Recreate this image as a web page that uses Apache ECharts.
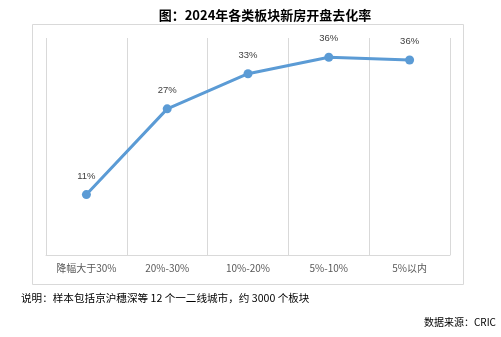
<!DOCTYPE html>
<html><head><meta charset="utf-8">
<script src="https://cdn.jsdelivr.net/npm/echarts@6/dist/echarts.min.js"></script>
<style>html,body{margin:0;padding:0;background:#fff}#c{width:501px;height:337px}</style>
</head><body><div id="c"></div>
<script>
const categories = ['降幅大于30%', '20%-30%', '10%-20%', '5%-10%', '5%以内'];
const values = [11.0, 26.6, 33.0, 36.0, 35.5];
const titleText = '图：2024年各类板块新房开盘去化率';
const noteText = '说明：样本包括京沪穗深等 12 个一二线城市，约 3000 个板块';
const sourceText = '数据来源：CRIC';

const chart = echarts.init(document.getElementById('c'), null, {renderer: 'canvas'});
chart.setOption({
  animation: false,
  backgroundColor: '#fff',
  title: {
    text: titleText, left: 260, top: 4, textAlign: 'center',
    textStyle: {fontFamily: 'Noto Sans CJK SC', fontWeight: 'bold', fontSize: 13, color: '#000'}
  },
  grid: {left: 46, right: 51, top: 38, bottom: 82},
  xAxis: {
    type: 'category', data: categories, boundaryGap: true,
    axisLine: {show: true, lineStyle: {color: '#d9d9d9', width: 1}},
    axisTick: {show: false},
    splitLine: {show: true, lineStyle: {color: '#d9d9d9', width: 1}},
    axisLabel: {color: '#595959', fontSize: 10, fontFamily: 'Noto Sans CJK SC', margin: 8}
  },
  yAxis: {
    type: 'value', min: 0, max: 39.5, show: false,
    splitLine: {show: false}
  },
  series: [{
    type: 'line', data: values, symbol: 'circle', symbolSize: 9,
    lineStyle: {color: '#5b9bd5', width: 3},
    itemStyle: {color: '#5b9bd5'},
    label: {
      show: true, position: 'top', distance: 9, color: '#404040', fontSize: 9.5,
      fontFamily: 'Liberation Sans',
      formatter: p => Math.round(p.value) + '%'
    }
  }],
  graphic: [
    {type: 'rect', shape: {x: 32.5, y: 24.5, width: 431, height: 260},
     style: {fill: 'none', stroke: '#d9d9d9', lineWidth: 1}, z: -1},
    {type: 'text', left: 21, top: 293,
     style: {text: noteText, fontSize: 10.6, fill: '#000', fontFamily: 'Noto Sans CJK SC'}},
    {type: 'text', right: 5, top: 317,
     style: {text: sourceText, fontSize: 10, fill: '#000', fontFamily: 'Noto Sans CJK SC'}}
  ]
});
</script></body></html>
